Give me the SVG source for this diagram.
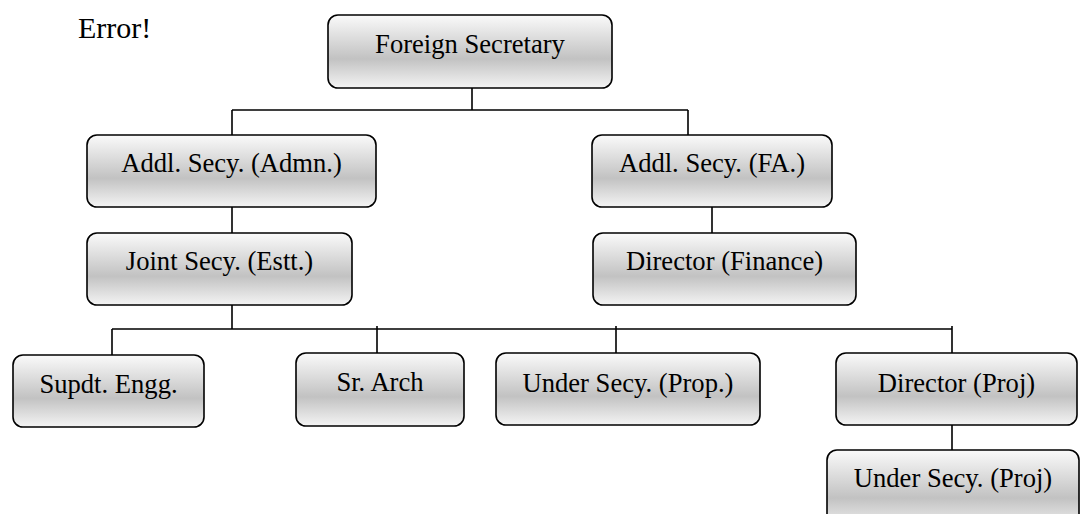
<svg xmlns="http://www.w3.org/2000/svg" width="1084" height="514" viewBox="0 0 1084 514">
<defs>
<linearGradient id="g" x1="0" y1="0" x2="0" y2="1">
<stop offset="0" stop-color="#fafafa"/>
<stop offset="0.6" stop-color="#c2c2c2"/>
<stop offset="1" stop-color="#f4f4f4"/>
</linearGradient>
<style>
.box{fill:url(#g);stroke:#000;stroke-width:1.6}
.t{font-family:"Liberation Serif","Times New Roman",serif;font-size:26.6px;fill:#000;text-anchor:middle}
.c{stroke:#000;stroke-width:1.6;fill:none}
</style>
</defs>
<rect width="1084" height="514" fill="#fff"/>
<text x="78" y="38" style="font-family:'Liberation Serif','Times New Roman',serif;font-size:30px;fill:#000">Error!</text>
<g id="connectors">
<path class="c" d="M472 88V110M232 110H688M232 110V135M688 110V135M232 207V233M712 207V233M232 305V329M112 329H952M112 329V355M377 326V353M616 326V353M952 326V353M952 425V450"/>
</g>
<g id="fs"><rect class="box" x="328" y="15" width="284" height="73" rx="10"/><text class="t" x="470" y="53">Foreign Secretary</text></g>
<g id="addl-admn"><rect class="box" x="87" y="135" width="289" height="72" rx="10"/><text class="t" x="231.5" y="172">Addl. Secy. (Admn.)</text></g>
<g id="addl-fa"><rect class="box" x="592" y="135" width="240" height="72" rx="10"/><text class="t" x="712" y="172">Addl. Secy. (FA.)</text></g>
<g id="joint"><rect class="box" x="87" y="233" width="265" height="72" rx="10"/><text class="t" x="219.5" y="270">Joint Secy. (Estt.)</text></g>
<g id="dir-fin"><rect class="box" x="593" y="233" width="263" height="72" rx="10"/><text class="t" x="724.5" y="270">Director (Finance)</text></g>
<g id="supdt"><rect class="box" x="13" y="355" width="191" height="72" rx="10"/><text class="t" x="108.5" y="393">Supdt. Engg.</text></g>
<g id="arch"><rect class="box" x="296" y="353" width="168" height="73" rx="10"/><text class="t" x="380" y="391">Sr. Arch</text></g>
<g id="us-prop"><rect class="box" x="496" y="353" width="264" height="72" rx="10"/><text class="t" x="628" y="392">Under Secy. (Prop.)</text></g>
<g id="dir-proj"><rect class="box" x="836" y="353" width="241" height="72" rx="10"/><text class="t" x="956.5" y="392">Director (Proj)</text></g>
<g id="us-proj"><rect class="box" x="827" y="450" width="252" height="80" rx="10"/><text class="t" x="953" y="487">Under Secy. (Proj)</text></g>
</svg>
